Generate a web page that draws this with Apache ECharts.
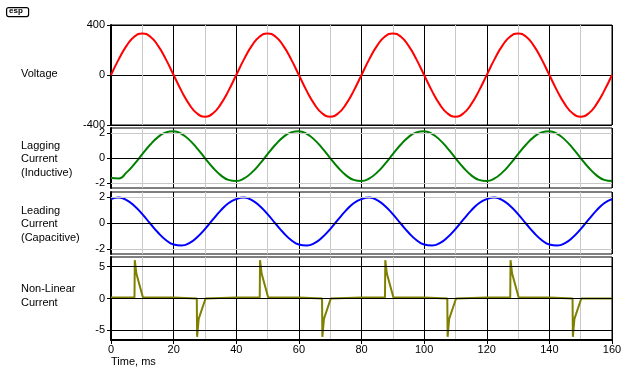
<!DOCTYPE html>
<html><head><meta charset="utf-8">
<script src="https://cdn.jsdelivr.net/npm/echarts@6/dist/echarts.min.js"></script>
<style>html,body{margin:0;padding:0;background:#fff}#c{width:640px;height:380px}</style>
</head><body><div id="c"></div>
<script>
// Time axis (ms) for the sine traces
const timeMs = [0,2.5,5,7.5,10,12.5,15,17.5,20,22.5,25,27.5,30,32.5,35,37.5,
  40,42.5,45,47.5,50,52.5,55,57.5,60,62.5,65,67.5,70,72.5,75,77.5,
  80,82.5,85,87.5,90,92.5,95,97.5,100,102.5,105,107.5,110,112.5,115,117.5,
  120,122.5,125,127.5,130,132.5,135,137.5,140,142.5,145,147.5,150,152.5,155,157.5,160];
const voltage = [0,127,235,308,333,308,235,127,0,-127,-235,-308,-333,-308,-235,-127,
  0,127,235,308,333,308,235,127,0,-127,-235,-308,-333,-308,-235,-127,
  0,127,235,308,333,308,235,127,0,-127,-235,-308,-333,-308,-235,-127,
  0,127,235,308,333,308,235,127,0,-127,-235,-308,-333,-308,-235,-127,0];
const laggingCurrent = [-1.6,-1.63,-1.15,-0.47,0.31,1.06,1.67,2.05,2.14,1.93,1.45,0.77,-0.01,-0.76,-1.37,-1.75,
  -1.84,-1.63,-1.15,-0.47,0.31,1.06,1.67,2.05,2.14,1.93,1.45,0.77,-0.01,-0.76,-1.37,-1.75,
  -1.84,-1.63,-1.15,-0.47,0.31,1.06,1.67,2.05,2.14,1.93,1.45,0.77,-0.01,-0.76,-1.37,-1.75,
  -1.84,-1.63,-1.15,-0.47,0.31,1.06,1.67,2.05,2.14,1.93,1.45,0.77,-0.01,-0.76,-1.37,-1.75,-1.84];
const leadingCurrent = [1.85,1.97,1.78,1.32,0.69,-0.04,-0.74,-1.31,-1.67,-1.75,-1.56,-1.10,-0.47,0.26,0.96,1.53,
  1.85,1.97,1.78,1.32,0.69,-0.04,-0.74,-1.31,-1.67,-1.75,-1.56,-1.10,-0.47,0.26,0.96,1.53,
  1.85,1.97,1.78,1.32,0.69,-0.04,-0.74,-1.31,-1.67,-1.75,-1.56,-1.10,-0.47,0.26,0.96,1.53,
  1.85,1.97,1.78,1.32,0.69,-0.04,-0.74,-1.31,-1.67,-1.75,-1.56,-1.10,-0.47,0.26,0.96,1.53,1.85];
// Non-linear current breakpoints
const nlTime = [0,7.5,7.6,8.0,8.1,10.2,20,20,27.4,27.5,27.9,28.0,30.2,
  40,47.5,47.6,48.0,48.1,50.2,60,60,67.4,67.5,67.9,68.0,70.2,
  80,87.5,87.6,88.0,88.1,90.2,100,100,107.4,107.5,107.9,108.0,110.2,
  120,127.5,127.6,128.0,128.1,130.2,140,140,147.4,147.5,147.9,148.0,150.2,160];
const nlCurrent = [0.15,0.15,6.0,5.7,3.9,0.15,0.15,0,0,-6.0,-5.7,-3.2,0,
  0.15,0.15,6.0,5.7,3.9,0.15,0.15,0,0,-6.0,-5.7,-3.2,0,
  0.15,0.15,6.0,5.7,3.9,0.15,0.15,0,0,-6.0,-5.7,-3.2,0,
  0.15,0.15,6.0,5.7,3.9,0.15,0.15,0,0,-6.0,-5.7,-3.2,0,0];
const xTicks = [0,20,40,60,80,100,120,140,160];
const panelLabels = ['Voltage', 'Lagging\nCurrent\n(Inductive)', 'Leading\nCurrent\n(Capacitive)', 'Non-Linear\nCurrent'];
const yLabelValues = [[-400,0,400],[-2,0,2],[-2,0,2],[-5,0,5]];

const FONT = 'Liberation Sans';
const pair = (xs, ys) => xs.map((t, i) => [t, ys[i]]);

const grids = [
  {left:111, width:501, top:25, height:100},
  {left:111, width:501, top:128, height:60},
  {left:111, width:501, top:192, height:62},
  {left:111, width:501, top:257, height:83}
].map(g => Object.assign(g, {show:true, borderColor:'#000', borderWidth:1, backgroundColor:'transparent', containLabel:false}));

const xAxes = grids.map((g, i) => ({
  type:'value', gridIndex:i, min:0, max:160, interval:20,
  axisLine:{show:i===3, onZero:false, lineStyle:{color:'#000', width:2}},
  axisTick:{show:i===3, length:4, lineStyle:{color:'#000'}},
  axisLabel:{show:i===3, color:'#000', fontFamily:FONT, fontSize:11, margin:4,
    customValues: xTicks},
  splitLine:{show:true, lineStyle:{color:'#000', width:1}},
  minorTick:{show:false, splitNumber:2},
  minorSplitLine:{show:true, lineStyle:{color:'#c8c8c8', width:1}}
}));

const yRanges = [[-400,400],[-2.4,2.4],[-2.4,2.4],[-6.5,6.5]];
const yAxes = grids.map((g, i) => ({
  type:'value', gridIndex:i, min:yRanges[i][0], max:yRanges[i][1],
  interval: i===0 ? 200 : undefined,
  axisLine:{show:true, onZero:false, lineStyle:{color:'#000', width:2}},
  axisTick:{show:true, length:4, lineStyle:{color:'#000'}, customValues: yLabelValues[i]},
  axisLabel:{show:true, color:'#000', fontFamily:FONT, fontSize:11, margin:6, customValues: yLabelValues[i]},
  splitLine:{show:i===0, lineStyle:{color:'#000', width:1}}
}));

function gridLines(i, xs, ys) {
  let lines;
  if (i === 3) lines = [{yAxis:-5, c:'#000'},{yAxis:0, c:'#000'},{yAxis:5, c:'#000'}];
  else lines = [{yAxis:-2, c:'#c8c8c8'},{yAxis:0, c:'#000'},{yAxis:2, c:'#c8c8c8'}];
  return {
    type:'line', xAxisIndex:i, yAxisIndex:i, z:1, silent:true, showSymbol:false,
    data: pair(xs, ys), lineStyle:{opacity:0},
    markLine:{silent:true, symbol:['none','none'], label:{show:false}, animation:false,
      data: lines.map(l => ({yAxis:l.yAxis, lineStyle:{color:l.c, width:1, type:'solid'}}))}
  };
}

const series = [
  {type:'line', xAxisIndex:0, yAxisIndex:0, z:3, data:pair(timeMs, voltage), smooth:true, showSymbol:false, lineStyle:{color:'#ff0000', width:2}},
  gridLines(1, timeMs, laggingCurrent),
  {type:'line', xAxisIndex:1, yAxisIndex:1, z:3, data:pair(timeMs, laggingCurrent), smooth:true, showSymbol:false, lineStyle:{color:'#008000', width:2}},
  gridLines(2, timeMs, leadingCurrent),
  {type:'line', xAxisIndex:2, yAxisIndex:2, z:3, data:pair(timeMs, leadingCurrent), smooth:true, showSymbol:false, lineStyle:{color:'#0000ff', width:2}},
  gridLines(3, nlTime, nlCurrent),
  {type:'line', xAxisIndex:3, yAxisIndex:3, z:3, data:pair(nlTime, nlCurrent), smooth:false, showSymbol:false, lineStyle:{color:'#808000', width:2}}
];

const labelY = [74, 159, 224, 296];
const graphic = panelLabels.map((t, i) => ({
  type:'text', left:21, top: labelY[i] - (t.split('\n').length * 13.5) / 2,
  style:{text:t, fill:'#000', font:'11px ' + FONT, lineHeight:13.5}
}));
graphic.push({type:'text', left:111, top:356, style:{text:'Time, ms', fill:'#000', font:'11px ' + FONT}});
graphic.push({type:'rect', left:6, top:7, shape:{width:22, height:9, r:2}, style:{fill:'#fff', stroke:'#000', lineWidth:1.2}});
graphic.push({type:'text', left:9, top:7, style:{text:'esp', fill:'#000', font:'bold 8px ' + FONT}});

const chart = echarts.init(document.getElementById('c'), null, {renderer:'canvas'});
chart.setOption({
  animation:false,
  backgroundColor:'#fff',
  grid:grids, xAxis:xAxes, yAxis:yAxes, series:series, graphic:graphic
});
</script></body></html>
